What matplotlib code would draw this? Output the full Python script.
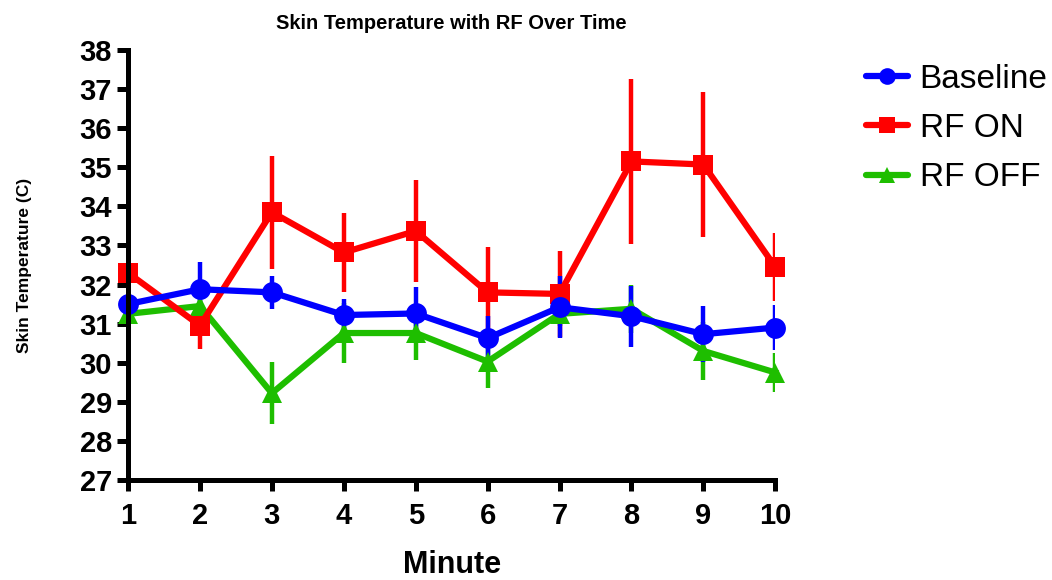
import numpy as np
import matplotlib
matplotlib.use('Agg')
import matplotlib.pyplot as plt
from matplotlib.lines import Line2D

minutes = [1, 2, 3, 4, 5, 6, 7, 8, 9, 10]

baseline = [31.5, 31.88, 31.8, 31.22, 31.26, 30.63, 31.42, 31.19, 30.73, 30.9]
baseline_err = [0.68, 0.7, 0.43, 0.4, 0.68, 0.57, 0.8, 0.78, 0.72, 0.57]

rf_on = [32.3, 30.95, 33.85, 32.82, 33.37, 31.8, 31.76, 35.15, 35.07, 32.45]
rf_on_err = [0.8, 0.6, 1.45, 1.0, 1.3, 1.17, 1.1, 2.1, 1.86, 0.86]

rf_off = [31.25, 31.45, 29.22, 30.76, 30.76, 30.03, 31.25, 31.38, 30.3, 29.75]
rf_off_err = [0.75, 0.3, 0.8, 0.77, 0.7, 0.67, 0.3, 0.62, 0.74, 0.5]

plt.rcParams['font.family'] = ['Liberation Sans', 'DejaVu Sans']

fig = plt.figure(figsize=(10.52, 5.8), dpi=100)
ax = fig.add_axes([0.1217, 0.1724, 0.6153, 0.7414])

series = [
    (rf_off, rf_off_err, '#1EBE00', '^', 'RF OFF'),
    (rf_on, rf_on_err, '#FF0000', 's', 'RF ON'),
    (baseline, baseline_err, '#0000FF', 'o', 'Baseline'),
]
handles = {}
for vals, errs, col, mk, name in series:
    ax.errorbar(minutes, vals, yerr=errs, color=col, ecolor=col,
                elinewidth=3.2, capsize=0, lw=4.5, marker=mk,
                markersize=15, markeredgewidth=0)
    handles[name] = Line2D([], [], color=col, lw=4.5, marker=mk,
                           markersize=12, markeredgewidth=0,
                           solid_capstyle='round')

ax.set_xlim(1, 10)
ax.set_ylim(27, 38)
ax.set_xticks(minutes)
ax.set_yticks(np.arange(27, 39, 1))
for s in ['top', 'right']:
    ax.spines[s].set_visible(False)
for s in ['left', 'bottom']:
    ax.spines[s].set_linewidth(3.6)
ax.tick_params(width=3.6, length=8, labelsize=21, direction='out')
ax.tick_params(axis='x', pad=8)
for lab in ax.get_xticklabels() + ax.get_yticklabels():
    lab.set_fontweight('bold')
for line in ax.get_lines():
    line.set_clip_on(False)

ax.set_xlabel('Minute', fontsize=22, fontweight='bold', labelpad=14)
ax.set_ylabel('Skin Temperature (C)', fontsize=12.5, fontweight='bold', labelpad=34)
ax.set_title('Skin Temperature with RF Over Time', fontsize=14.5, fontweight='bold', pad=15)

order = ['Baseline', 'RF ON', 'RF OFF']
leg = fig.legend([handles[n] for n in order], order, loc='upper left',
                 bbox_to_anchor=(0.795, 0.942), frameon=False, fontsize=24,
                 handlelength=1.25, labelspacing=0.55, handletextpad=0.35)

fig.savefig('out.png', dpi=100)
